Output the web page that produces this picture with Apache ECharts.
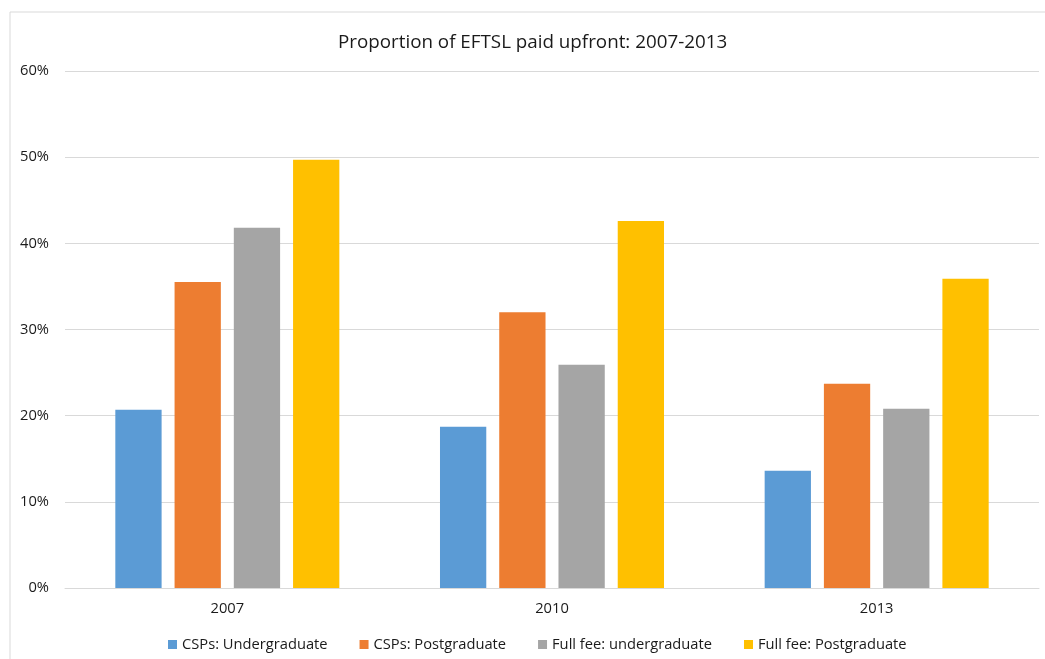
<!DOCTYPE html>
<html><head><meta charset="utf-8">
<script src="https://cdn.jsdelivr.net/npm/echarts@6/dist/echarts.min.js"></script>
<style>html,body{margin:0;padding:0;background:#fff}#c{width:1045px;height:659px}</style>
</head><body><div id="c"></div>
<script>
const categories = ['2007', '2010', '2013'];
const seriesNames = ['CSPs: Undergraduate', 'CSPs: Postgraduate', 'Full fee: undergraduate', 'Full fee: Postgraduate'];
const cspUndergrad = [20.7, 18.7, 13.6];
const cspPostgrad = [35.5, 32.0, 23.7];
const fullFeeUndergrad = [41.8, 25.9, 20.8];
const fullFeePostgrad = [49.7, 42.6, 35.9];
const yTicks = [0, 10, 20, 30, 40, 50, 60];
const colors = ['#5B9BD5', '#ED7D31', '#A5A5A5', '#FFC000'];

const font = 'Open Sans';
const allValues = [cspUndergrad, cspPostgrad, fullFeeUndergrad, fullFeePostgrad];
const chart = echarts.init(document.getElementById('c'));
chart.setOption({
  animation: false,
  color: colors,
  graphic: [{type: 'rect', shape: {x: 10, y: 12, width: 1100, height: 700}, style: {fill: 'none', stroke: '#D9D9D9', lineWidth: 1}, silent: true}],
  title: {text: 'Proportion of EFTSL paid upfront: 2007-2013', left: 333, top: 28,
    textStyle: {fontFamily: font, fontSize: 18.8, fontWeight: 'normal', color: '#1a1a1a'}},
  legend: {bottom: 2, left: 163, itemWidth: 9, itemHeight: 9, itemGap: 32, icon: 'rect',
    textStyle: {fontFamily: font, fontSize: 14.7, color: '#1a1a1a'}, data: seriesNames},
  grid: {left: 65, right: 6, top: 71, bottom: 71, containLabel: false},
  xAxis: {type: 'category', data: categories,
    axisLine: {lineStyle: {color: '#D9D9D9'}}, axisTick: {show: false},
    axisLabel: {fontFamily: font, fontSize: 14.7, color: '#1a1a1a', margin: 13}},
  yAxis: {type: 'value', min: yTicks[0], max: yTicks[yTicks.length - 1], interval: 10,
    axisLine: {show: false}, axisTick: {show: false},
    splitLine: {lineStyle: {color: '#D9D9D9'}},
    axisLabel: {fontFamily: font, fontSize: 14.7, color: '#1a1a1a', margin: 16, formatter: v => v + '%'}},
  series: seriesNames.map((n, i) => ({
    name: n, type: 'bar', data: allValues[i], barGap: '28%', barCategoryGap: '31%',
    itemStyle: {color: colors[i]}
  }))
});
</script></body></html>
